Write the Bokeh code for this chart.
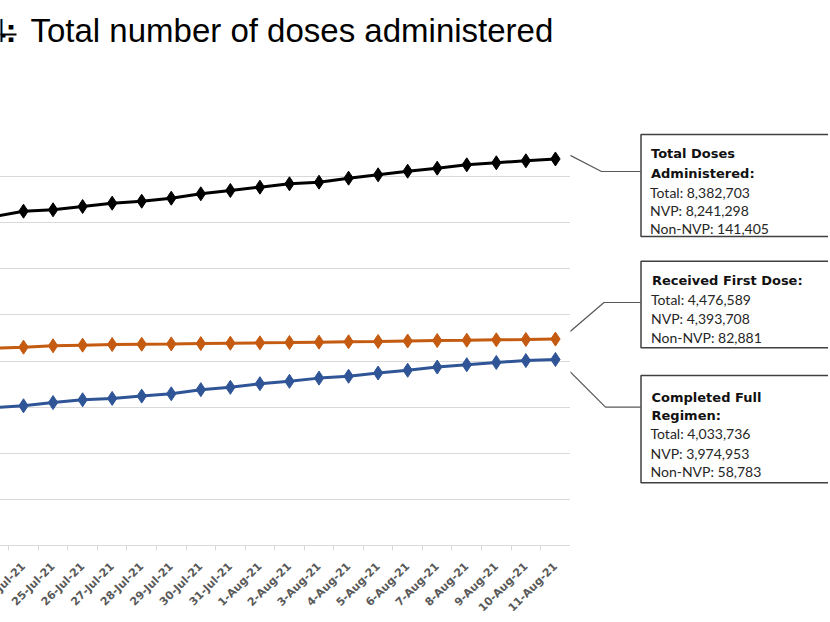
import math
from bokeh.plotting import figure
from bokeh.models import Range1d, FixedTicker, Grid
from bokeh.layouts import row, column
from bokeh.core.properties import value
from bokeh.embed import file_html
from bokeh.resources import INLINE

# ---------------- data ----------------
dates = ["23-Jul-21", "24-Jul-21", "25-Jul-21", "26-Jul-21", "27-Jul-21", "28-Jul-21",
         "29-Jul-21", "30-Jul-21", "31-Jul-21", "1-Aug-21", "2-Aug-21", "3-Aug-21",
         "4-Aug-21", "5-Aug-21", "6-Aug-21", "7-Aug-21", "8-Aug-21", "9-Aug-21",
         "10-Aug-21", "11-Aug-21"]
total_doses = [7130000, 7250000, 7280000, 7352000, 7424000, 7467000, 7532000, 7627000,
               7699000, 7771000, 7844000, 7879000, 7966000, 8039000, 8118000, 8183000,
               8256000, 8300000, 8343000, 8382703]
first_dose = [4280000, 4301000, 4331000, 4345000, 4359000, 4365000, 4372000, 4380000,
              4388000, 4395000, 4402000, 4410000, 4418000, 4425000, 4435000, 4445000,
              4452000, 4461000, 4468000, 4476589]
full_regimen = [2990000, 3030000, 3100000, 3160000, 3190000, 3240000, 3290000, 3380000,
                3430000, 3510000, 3560000, 3630000, 3670000, 3740000, 3800000, 3870000,
                3920000, 3970000, 4010000, 4033736]
y_ticks = [0, 1000000, 2000000, 3000000, 4000000, 5000000, 6000000, 7000000, 8000000, 9000000]

title_num = "4:"
title_text = "Total number of doses administered"

callout_total = ["Total Doses", "Administered:", "Total: 8,382,703", "NVP: 8,241,298", "Non-NVP: 141,405"]
callout_first = ["Received First Dose:", "Total: 4,476,589", "NVP: 4,393,708", "Non-NVP: 82,881"]
callout_full = ["Completed Full", "Regimen:", "Total: 4,033,736", "NVP: 3,974,953", "Non-NVP: 58,783"]

BLACK = "#000000"
ORANGE = "#C55A11"
BLUE = "#2F5597"
GRID = "#D9D9D9"
EDGE = "#404040"
TICK_TXT = "#595959"

xs = list(range(len(dates)))
Y_MAX = 9000000

# ---------------- title strip ----------------
t = figure(width=828, height=42, output_backend="svg", toolbar_location=None,
           x_range=Range1d(0, 828), y_range=Range1d(42, 0),
           x_axis_location=None, y_axis_location=None,
           min_border=0, outline_line_color=None)
t.grid.visible = False
t.text(x=[16], y=[30], text=[title_num], text_font=value("Liberation Sans"),
       text_font_style="bold", text_font_size="33px", text_align="right",
       text_baseline="alphabetic", text_color="#000000")
t.segment(x0=[-2], y0=[34], x1=[16], y1=[34], line_color="#000000", line_width=2)
t.text(x=[30], y=[30], text=[title_text], text_font=value("Liberation Sans"),
       text_font_size="33px", text_align="left", text_baseline="alphabetic",
       text_color="#000000")

# ---------------- main chart (its left part lies beyond the page edge) ----------------
TOP, BOTTOM = 88, 77
p = figure(width=610, height=TOP + 415 + BOTTOM, output_backend="svg", toolbar_location=None,
           x_range=Range1d(-1.132, 19.51), y_range=Range1d(0, Y_MAX),
           y_axis_location=None, min_border_left=0, min_border_right=0,
           min_border_top=TOP, min_border_bottom=BOTTOM, outline_line_color=None,
           margin=(0, 0, 0, -40))
p.xgrid.visible = False
p.add_layout(Grid(dimension=1, ticker=FixedTicker(ticks=y_ticks),
                  grid_line_color=GRID, grid_line_width=1))

ax = p.xaxis[0]
ax.ticker = FixedTicker(ticks=xs[1:], minor_ticks=[i + 0.5 for i in xs] + [-0.5])
ax.major_label_overrides = {i: d for i, d in enumerate(dates)}
ax.major_label_orientation = math.pi / 4
ax.major_tick_in = 0
ax.major_tick_out = 0
ax.minor_tick_in = 0
ax.minor_tick_out = 5
ax.minor_tick_line_color = GRID
ax.axis_line_color = GRID
ax.axis_line_width = 1.2
ax.major_label_text_font = "DejaVu Sans"
ax.major_label_text_font_style = "bold"
ax.major_label_text_font_size = "11px"
ax.major_label_text_color = TICK_TXT
ax.major_label_standoff = 14

for ys, col in ((total_doses, BLACK), (first_dose, ORANGE), (full_regimen, BLUE)):
    p.line(xs, ys, line_color=col, line_width=3)
    p.scatter(xs, ys, marker="diamond", size=14, fill_color=col, line_color=col)

# ---------------- callouts ----------------
FT, FB = 130.0, 545.0  # page y of frame top / bottom


def vy(py):
    return (FB - py) / (FB - FT) * Y_MAX


c = figure(width=258, height=TOP + 415 + BOTTOM, output_backend="svg", toolbar_location=None,
           x_range=Range1d(570, 828), y_range=p.y_range,
           x_axis_location=None, y_axis_location=None,
           min_border_left=0, min_border_right=0, min_border_top=TOP, min_border_bottom=BOTTOM,
           outline_line_color=None)
c.grid.visible = False

boxes = [(134, 236), (260.7, 347.3), (375, 482.3)]
for top, bot in boxes:
    c.quad(left=[640.5], right=[900], top=[vy(top)], bottom=[vy(bot)],
           fill_color="white", line_color=EDGE, line_width=1.5)

connectors = [
    ([566.7, 601, 640.5], [153.3, 171, 171]),
    ([563, 603.5, 640.5], [336.7, 302, 302]),
    ([566.7, 605, 640.5], [368.3, 406.7, 406.7]),
]
for cx, cy in connectors:
    c.line(cx, [vy(v) for v in cy], line_color="#595959", line_width=1.2)


def put(lines, bold_n, x, baselines):
    for i, (txt, b) in enumerate(zip(lines, baselines)):
        if i < bold_n:
            c.text(x=[x + 1], y=[vy(b)], text=[txt], text_font=value("DejaVu Sans"),
                   text_font_style="bold", text_font_size="13px",
                   text_baseline="alphabetic", text_color="#111111")
        else:
            c.text(x=[x], y=[vy(b)], text=[txt], text_font=value("Lato"),
                   text_font_size="14px", text_baseline="alphabetic", text_color="#262626")


put(callout_total, 2, 649.5, [153.3, 173.3, 191.7, 210, 228])
put(callout_first, 1, 650.5, [280, 299, 318, 337])
put(callout_full, 2, 650, [396.7, 414.5, 433.3, 452.7, 471])

layout = column(t, row(p, c))
open("out.html", "w").write(file_html(layout, INLINE))
